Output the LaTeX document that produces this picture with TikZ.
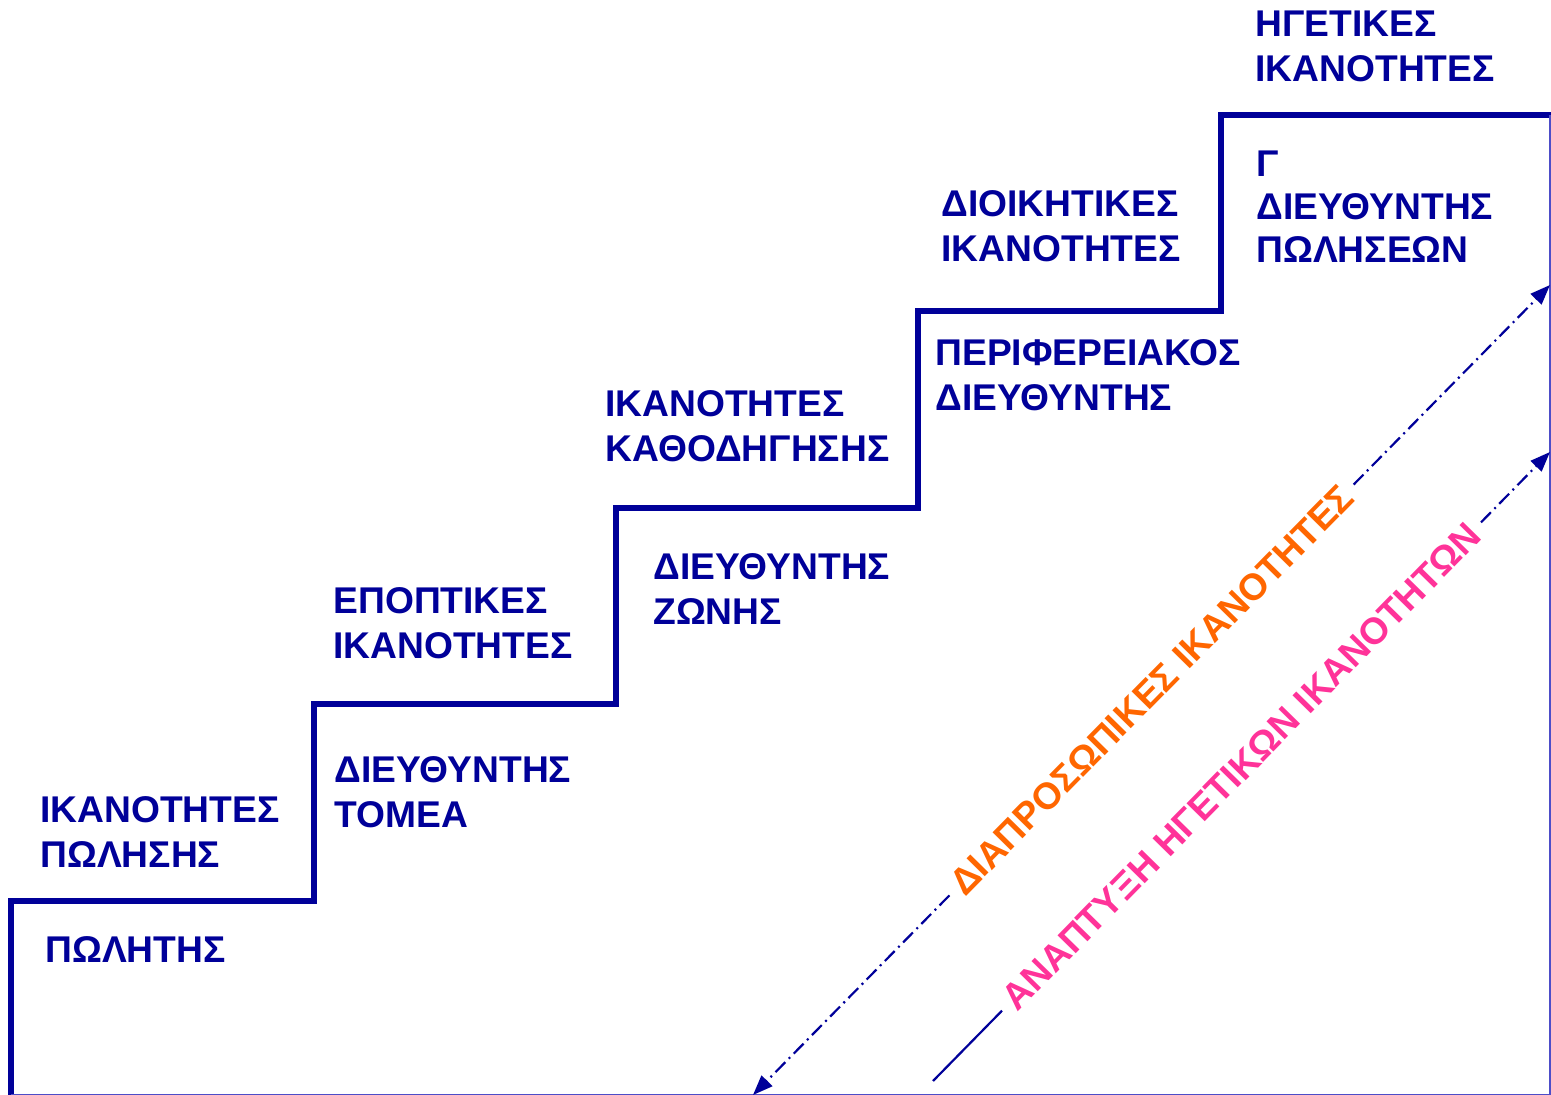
\documentclass[tikz,border=0pt]{standalone}
\usepackage{fontspec}
\setmainfont{Liberation Sans}
\usetikzlibrary{arrows.meta}

\definecolor{stairblue}{HTML}{000099}
\definecolor{frameblue}{HTML}{4D4DC8}
\definecolor{lblorange}{HTML}{FF6600}
\definecolor{lblpink}{HTML}{FF3399}

% left-aligned block of lines whose baseline is that of the first line
\newcommand\mlines[1]{\begin{tabular}[t]{@{}l@{}}#1\end{tabular}}

\begin{document}
\begin{tikzpicture}[x=0.5pt,y=-0.5pt,
  stair/.style={draw=stairblue, line width=3pt, line join=miter},
  frame/.style={draw=frameblue, line width=0.6pt},
  lbl/.style={anchor=base west, inner sep=0pt, text=stairblue,
    font=\fontsize{18.6}{22.5}\selectfont\bfseries},
  diag/.style={sloped, pos=0.5, inner sep=4.5pt,
    font=\fontsize{18.6}{23}\selectfont\bfseries},
  solidline/.style={draw=stairblue, line width=1.1pt},
  dashdotline/.style={solidline, dash pattern=on 7pt off 2.5pt on 1pt off 2.5pt},
  arrowend/.style={-{Triangle[length=10pt,width=7.5pt]}}
]
\useasboundingbox (0,0) rectangle (1551,1095);

% staircase
\draw[stair] (11,1095) -- (11,901) -- (314,901) -- (314,704) -- (616,704)
  -- (616,508) -- (918,508) -- (918,311) -- (1221,311) -- (1221,115) -- (1551,115);
% thin frame on the right and bottom
\draw[frame] (1550,115) -- (1550,1094.5) -- (11,1094.5);

% labels on the steps
\node[lbl] (hgetikes) at (1255,37) {\mlines{ΗΓΕΤΙΚΕΣ\\ΙΚΑΝΟΤΗΤΕΣ}};
\node[lbl, font=\fontsize{18.6}{21.5}\selectfont\bfseries] (gendir) at (1256,177)
  {\mlines{Γ\\ΔΙΕΥΘΥΝΤΗΣ\\ΠΩΛΗΣΕΩΝ}};
\node[lbl] (dioikitikes) at (941,217) {\mlines{ΔΙΟΙΚΗΤΙΚΕΣ\\ΙΚΑΝΟΤΗΤΕΣ}};
\node[lbl] (perif) at (935,366) {\mlines{ΠΕΡΙΦΕΡΕΙΑΚΟΣ\\ΔΙΕΥΘΥΝΤΗΣ}};
\node[lbl] (kathod) at (605,417) {\mlines{ΙΚΑΝΟΤΗΤΕΣ\\ΚΑΘΟΔΗΓΗΣΗΣ}};
\node[lbl] (zoni) at (653,580) {\mlines{ΔΙΕΥΘΥΝΤΗΣ\\ΖΩΝΗΣ}};
\node[lbl] (epoptikes) at (333,613) {\mlines{ΕΠΟΠΤΙΚΕΣ\\ΙΚΑΝΟΤΗΤΕΣ}};
\node[lbl] (tomea) at (334,782) {\mlines{ΔΙΕΥΘΥΝΤΗΣ\\ΤΟΜΕΑ}};
\node[lbl] (poliseis) at (40,822) {\mlines{ΙΚΑΝΟΤΗΤΕΣ\\ΠΩΛΗΣΗΣ}};
\node[lbl] (politis) at (45,962) {ΠΩΛΗΤΗΣ};

% interpersonal skills arrow
\coordinate (o1) at (753,1095);
\coordinate (o2) at (1550,285);
\path (o1) -- node[diag, text=lblorange] (t1) {ΔΙΑΠΡΟΣΩΠΙΚΕΣ ΙΚΑΝΟΤΗΤΕΣ} (o2);
\draw[dashdotline, arrowend] (t1) -- (o1);
\draw[dashdotline, arrowend] (t1) -- (o2);

% leadership development arrow
\coordinate (p1) at (933,1081);
\coordinate (p2) at (1550,452);
\path (p1) -- node[diag, text=lblpink] (t2) {ΑΝΑΠΤΥΞΗ ΗΓΕΤΙΚΩΝ ΙΚΑΝΟΤΗΤΩΝ} (p2);
\draw[solidline] (t2) -- (p1);
\draw[dashdotline, arrowend] (t2) -- (p2);
\end{tikzpicture}
\end{document}
